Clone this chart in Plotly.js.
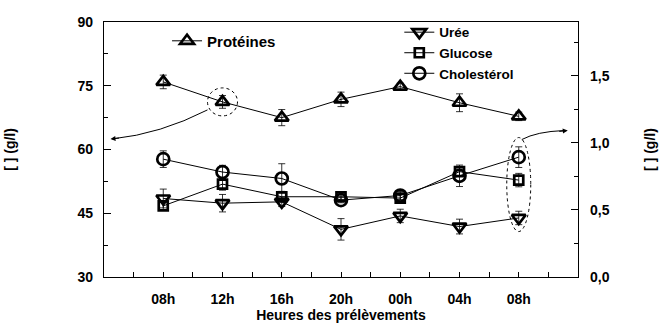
<!DOCTYPE html>
<html>
<head>
<meta charset="utf-8">
<script src="https://cdn.plot.ly/plotly-3.0.1.min.js"></script>
<style>html,body{margin:0;padding:0;background:#fff;}#chart{width:664px;height:323px;}</style>
</head>
<body>
<div id="chart"></div>
<script>
// Sampling hours (categories)
const hours = ["08h", "12h", "16h", "20h", "00h", "04h", "08h"];
const idx = [0, 1, 2, 3, 4, 5, 6];

// Protéines (g/l) - left axis
const proteines = [75.9, 71.2, 67.5, 71.8, 74.8, 71.0, 67.8];
const proteinesErr = [1.6, 1.5, 1.9, 1.7, 0.8, 2.1, 1.0];

// Urée (g/l) - right axis
const uree = [0.585, 0.55, 0.56, 0.355, 0.455, 0.376, 0.44];
const ureeErr = [0.07, 0.065, 0.035, 0.08, 0.05, 0.055, 0.05];

// Glucose (g/l) - right axis
const glucose = [0.53, 0.692, 0.598, 0.598, 0.588, 0.785, 0.722];
const glucoseErr = [0.03, 0.045, 0.04, 0.02, 0.03, 0.03, 0.05];

// Cholestérol (g/l) - right axis
const cholesterol = [0.878, 0.782, 0.734, 0.573, 0.607, 0.754, 0.893];
const cholesterolErr = [0.062, 0.05, 0.11, 0.02, 0.03, 0.08, 0.077];

const F = {family: "Liberation Sans, Arial, sans-serif", weight: "bold", color: "#000"};
function err(a){ return {type: "data", array: a, visible: true, color: "#000", thickness: 0.8, width: 3.5}; }
function mk(sym, size){ return {symbol: sym, size: size, color: "#000", line: {color: "#000", width: 2.7}}; }

const traces = [
  {x: idx, y: proteines, name: "Protéines", type: "scatter", mode: "lines+markers",
   line: {color: "#000", width: 1}, marker: mk("triangle-up-open", 12), error_y: err(proteinesErr),
   yaxis: "y", legend: "legend"},
  {x: idx, y: uree, name: "Urée", type: "scatter", mode: "lines+markers",
   line: {color: "#000", width: 1}, marker: mk("triangle-down-open", 12), error_y: err(ureeErr),
   yaxis: "y2", legend: "legend2"},
  {x: idx, y: glucose, name: "Glucose", type: "scatter", mode: "lines+markers",
   line: {color: "#000", width: 1}, marker: mk("square-open", 9), error_y: err(glucoseErr),
   yaxis: "y2", legend: "legend2"},
  {x: idx, y: cholesterol, name: "Cholestérol", type: "scatter", mode: "lines+markers",
   line: {color: "#000", width: 1}, marker: mk("circle-open", 12), error_y: err(cholesterolErr),
   yaxis: "y2", legend: "legend2"}
];

const last = idx.length - 1;
const ellY = (cholesterol[last] + uree[last]) / 2;

const layout = {
  width: 664, height: 323,
  margin: {l: 104, r: 86, t: 22, b: 46},
  paper_bgcolor: "#fff", plot_bgcolor: "#fff",
  font: {family: F.family, size: 14, color: "#000", weight: "bold"},
  separators: ", ",
  showlegend: true,
  xaxis: {
    range: [-1, 7], tickmode: "array", tickvals: idx, ticktext: hours,
    ticks: "inside", ticklen: 5, tickwidth: 1, tickcolor: "#000",
    minor: {tickmode: "linear", tick0: 0.5, dtick: 1, ticks: "inside", ticklen: 5, tickcolor: "#000"},
    showline: true, linecolor: "#000", linewidth: 1.2, mirror: true,
    showgrid: false, zeroline: false, ticklabelstandoff: 9,
    tickfont: {family: F.family, size: 14, weight: "bold"},
    title: {text: "Heures des prélèvements", font: {family: F.family, size: 14, weight: "bold"}, standoff: 4}
  },
  yaxis: {
    range: [30, 90], tickmode: "linear", tick0: 30, dtick: 15,
    ticks: "inside", ticklen: 7, tickwidth: 1, tickcolor: "#000",
    minor: {tickmode: "linear", tick0: 30, dtick: 7.5, ticks: "inside", ticklen: 4, tickcolor: "#000"},
    showline: true, linecolor: "#000", linewidth: 1.2,
    showgrid: false, zeroline: false, ticklabelstandoff: 7,
    tickfont: {family: F.family, size: 14, weight: "bold"},
    title: {text: "[ ] (g/l)", font: {family: F.family, size: 14, weight: "bold"}, standoff: 58}
  },
  yaxis2: {
    overlaying: "y", side: "right", range: [0, 1.9], tickmode: "linear", tick0: 0, dtick: 0.5,
    tickformat: ".1f",
    ticks: "inside", ticklen: 7, tickwidth: 1, tickcolor: "#000",
    minor: {tickmode: "linear", tick0: 0, dtick: 0.25, ticks: "inside", ticklen: 4, tickcolor: "#000"},
    showline: true, linecolor: "#000", linewidth: 1.2,
    showgrid: false, zeroline: false, ticklabelstandoff: 8,
    tickfont: {family: F.family, size: 14, weight: "bold"},
    title: {text: "[ ] (g/l)", font: {family: F.family, size: 14, weight: "bold"}, standoff: 36}
  },
  legend: {x: 0.133, y: 0.99, xanchor: "left", yanchor: "top", bgcolor: "rgba(0,0,0,0)",
    font: {family: F.family, size: 15, weight: "bold"}, tracegroupgap: 0, itemwidth: 30},
  legend2: {x: 0.623, y: 1.02, xanchor: "left", yanchor: "top", bgcolor: "rgba(0,0,0,0)",
    font: {family: F.family, size: 13.5, weight: "bold"}, tracegroupgap: 0, itemwidth: 30},
  shapes: [
    {type: "circle", xref: "x", yref: "y", xsizemode: "pixel", ysizemode: "pixel",
     xanchor: 1, yanchor: proteines[1], x0: -15, x1: 15, y0: -14, y1: 14,
     line: {color: "#000", width: 1, dash: "dot"}},
    {type: "path", xref: "x", yref: "y", xsizemode: "pixel", ysizemode: "pixel",
     xanchor: 1, yanchor: proteines[1], path: "M-15,-8 Q-62,-32 -110,-37",
     line: {color: "#000", width: 1}},
    {type: "circle", xref: "x", yref: "y2", xsizemode: "pixel", ysizemode: "pixel",
     xanchor: last, yanchor: ellY, x0: -12, x1: 12, y0: -44, y1: 50,
     line: {color: "#000", width: 1, dash: "dot"}},
    {type: "path", xref: "x", yref: "y2", xsizemode: "pixel", ysizemode: "pixel",
     xanchor: last, yanchor: ellY, path: "M3,48 Q18,56 45,57",
     line: {color: "#000", width: 1}}
  ],
  annotations: [
    {x: 1, y: proteines[1], xref: "x", yref: "y", xshift: -112, yshift: -37, text: "",
     showarrow: true, arrowhead: 2, arrowsize: 1, arrowwidth: 1, arrowcolor: "#000", ax: 10, ay: -1},
    {x: last, y: ellY, xref: "x", yref: "y2", xshift: 49, yshift: 57, text: "",
     showarrow: true, arrowhead: 2, arrowsize: 1, arrowwidth: 1, arrowcolor: "#000", ax: -10, ay: 1}
  ]
};

Plotly.newPlot("chart", traces, layout, {displayModeBar: false, staticPlot: true});
</script>
</body>
</html>
